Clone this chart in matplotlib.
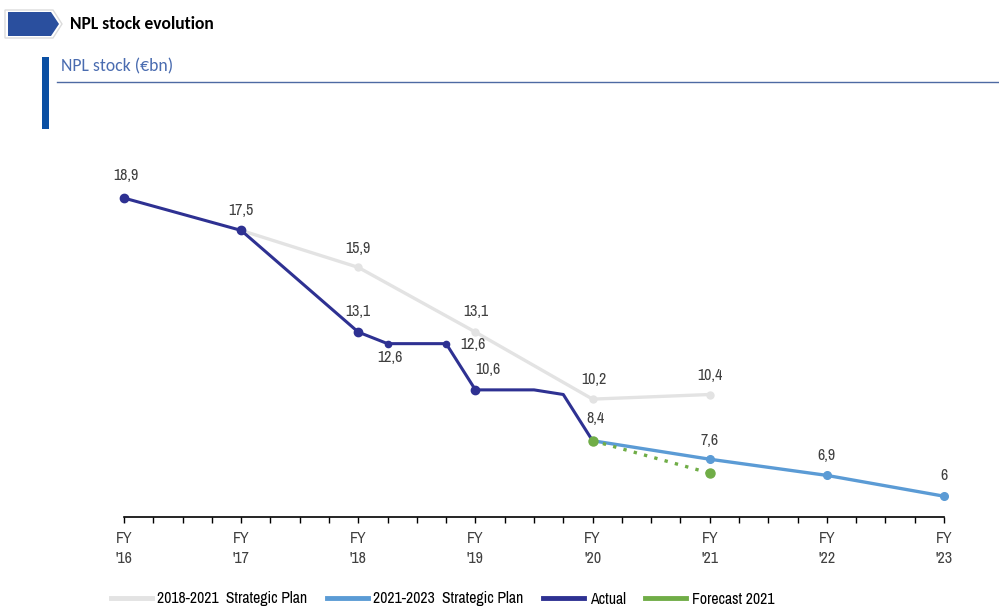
import matplotlib
matplotlib.use("Agg")
import matplotlib.pyplot as plt
from matplotlib.patches import Polygon, Rectangle
from matplotlib.lines import Line2D

plt.rcParams['font.family'] = ['Archivo Narrow', 'Liberation Sans', 'DejaVu Sans']

# quarters since FY'16 (4 quarters per fiscal year)
fy_labels = ["FY\n'16", "FY\n'17", "FY\n'18", "FY\n'19", "FY\n'20", "FY\n'21", "FY\n'22", "FY\n'23"]

actual_q = [0, 4, 8, 9, 10, 11, 12, 13, 14, 15, 16]
actual_v = [18.9, 17.5, 13.1, 12.6, 12.6, 12.6, 10.6, 10.6, 10.6, 10.4, 8.4]

plan18_q = [4, 8, 12, 16, 20]
plan18_v = [17.5, 15.9, 13.1, 10.2, 10.4]

plan21_q = [16, 20, 24, 28]
plan21_v = [8.4, 7.6, 6.9, 6.0]

forecast_q = [16, 20]
forecast_v = [8.4, 7.0]

c_actual = '#2e3192'
c_plan18 = '#e3e3e3'
c_plan21 = '#5b9bd5'
c_fcst = '#70ad47'
c_text = '#404040'

W, H = 999, 606
fig = plt.figure(figsize=(W / 100, H / 100), dpi=100)

# chart area
left, right = 124 / W, 944 / W
bottom, top = 1 - 517 / H, 1 - 149.5 / H
ax = fig.add_axes([left, bottom, right - left, top - bottom])
ax.set_xlim(0, 28)
ax.set_ylim(5.1, 21)

ax.plot(plan18_q, plan18_v, color=c_plan18, lw=2.4, marker='o', ms=5, zorder=2, clip_on=False)
ax.plot(plan21_q, plan21_v, color=c_plan21, lw=2.4, marker='o', ms=5.5, zorder=3, clip_on=False)
ax.plot(actual_q, actual_v, color=c_actual, lw=2.2, zorder=4, clip_on=False)
big = [0, 1, 2, 6]
small = [3, 5]
ax.plot([actual_q[i] for i in big], [actual_v[i] for i in big], 'o', color=c_actual, ms=6,
        zorder=5, clip_on=False)
ax.plot([actual_q[i] for i in small], [actual_v[i] for i in small], 'o', color=c_actual, ms=4.5,
        zorder=5, clip_on=False)
ax.plot(forecast_q, forecast_v, color=c_fcst, lw=2.4, ls=(0, (1, 2.2)), zorder=6)
ax.plot(forecast_q, forecast_v, 'o', color=c_fcst, ms=6.5, zorder=7, clip_on=False)

# value labels (x, y, value, dx, dy in pixels)
labels = [
    (actual_q[0], actual_v[0], actual_v[0], 2, 23),
    (actual_q[1], actual_v[1], actual_v[1], 0, 20),
    (plan18_q[1], plan18_v[1], plan18_v[1], 0, 19),
    (actual_q[2], actual_v[2], actual_v[2], 0, 21),
    (actual_q[3], actual_v[3], actual_v[3], 2, -14),
    (plan18_q[2], plan18_v[2], plan18_v[2], 0, 21),
    (actual_q[5], actual_v[5], actual_v[5], 27, -1),
    (actual_q[6], actual_v[6], actual_v[6], 12, 20),
    (plan18_q[3], plan18_v[3], plan18_v[3], 1, 20),
    (plan18_q[4], plan18_v[4], plan18_v[4], 0, 19),
    (plan21_q[0], plan21_v[0], plan21_v[0], 3, 22),
    (plan21_q[1], plan21_v[1], plan21_v[1], 0, 19),
    (plan21_q[2], plan21_v[2], plan21_v[2], 0, 20),
    (plan21_q[3], plan21_v[3], plan21_v[3], 0, 21),
]
for x, y, v, dx, dy in labels:
    txt = f"{v:g}".replace('.', ',')
    ax.annotate(txt, (x, y), xytext=(dx, dy), textcoords='offset pixels',
                ha='center', va='center', fontsize=11.5, color=c_text, zorder=8)

for s in ['top', 'right', 'left']:
    ax.spines[s].set_visible(False)
ax.spines['bottom'].set_color('#000000')
ax.spines['bottom'].set_linewidth(1.2)
ax.set_yticks([])
ax.set_xticks(range(0, 29))
ax.set_xticklabels([fy_labels[i // 4] if i % 4 == 0 else '' for i in range(29)])
ax.tick_params(axis='x', length=4, width=1, color='#000000', labelsize=11.5,
               labelcolor=c_text, pad=6)
for t in ax.get_xticklabels():
    t.set_linespacing(1.4)

# legend
handles = [
    Line2D([], [], color=c_plan18, lw=3.5),
    Line2D([], [], color=c_plan21, lw=3.5),
    Line2D([], [], color=c_actual, lw=3.5),
    Line2D([], [], color=c_fcst, lw=3.5),
]
names = ['2018-2021  Strategic Plan', '2021-2023  Strategic Plan', 'Actual', 'Forecast 2021']
fig.legend(handles, names, loc='center left', bbox_to_anchor=(97 / W, 1 - 599 / H),
           ncol=4, frameon=False, fontsize=11.3, handlelength=2.6, handletextpad=0.35,
           columnspacing=1.25, labelcolor='#000000')

# header decorations
deco = fig.add_axes([0, 0, 1, 1], zorder=-1)
deco.set_xlim(0, W)
deco.set_ylim(H, 0)
deco.axis('off')
deco.add_patch(Polygon([(5, 10), (53, 10), (62, 24), (53, 38), (5, 38)], closed=True,
                       facecolor='none', edgecolor='#dcdcdc', lw=1))
deco.add_patch(Polygon([(8, 12), (51, 12), (59, 24), (51, 36), (8, 36)], closed=True,
                       facecolor='#2a4f9e', edgecolor='none'))
deco.text(70, 24, 'NPL stock evolution', fontsize=12.6, fontweight='bold',
          family=['Carlito', 'DejaVu Sans'], color='#000000', va='center', ha='left')
deco.add_patch(Rectangle((42, 57), 6.5, 72, facecolor='#0a4fa3', edgecolor='none'))
deco.text(61, 66, 'NPL stock (€bn)', fontsize=12.7, family=['Carlito', 'DejaVu Sans'],
          color='#4a6cb0', va='center', ha='left')
deco.plot([57, W], [82, 82], color='#4e6aa3', lw=1)

fig.savefig('out.png', dpi=100)
